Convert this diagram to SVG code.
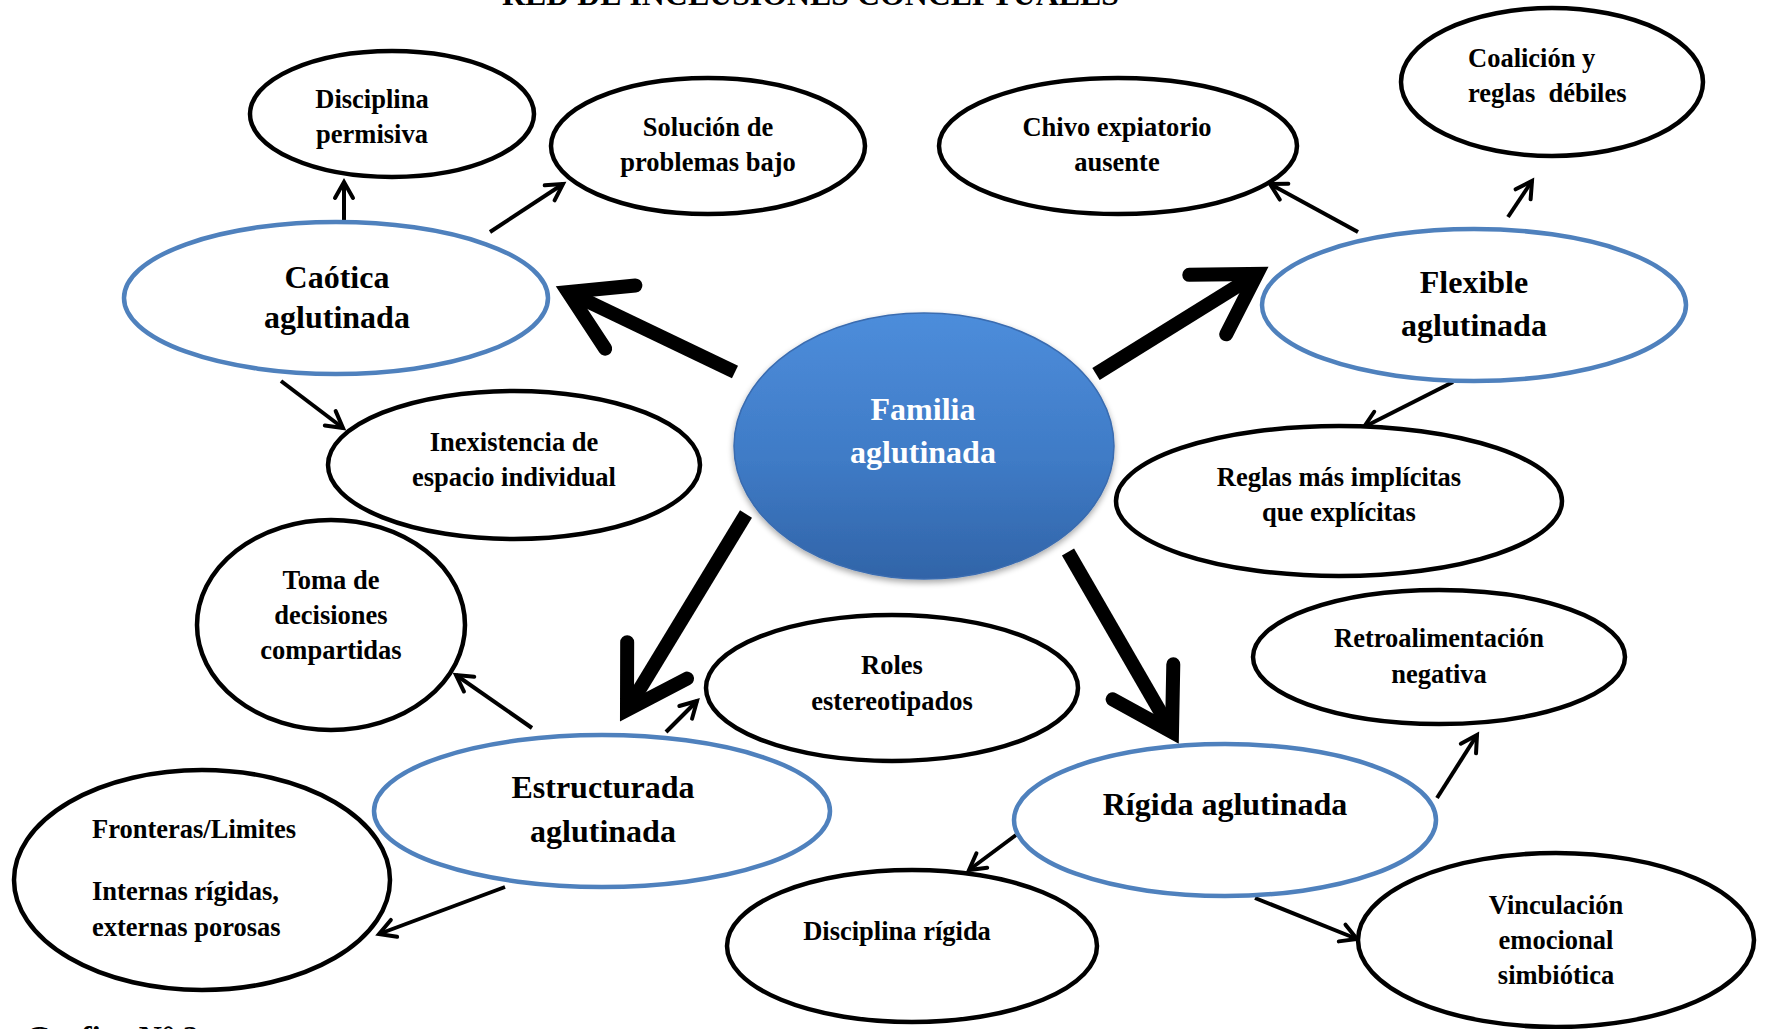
<svg xmlns="http://www.w3.org/2000/svg" width="1767" height="1029" viewBox="0 0 1767 1029">
  <style>
    .blk { fill: #ffffff; stroke: #000000; stroke-width: 4.5; }
    .blue { fill: #ffffff; stroke: #4f81bd; stroke-width: 4.5; }
    .t { font-family: "Liberation Serif", "Times New Roman", serif; font-weight: bold; font-size: 26.5px; fill: #000000; text-anchor: middle; }
    .tl { text-anchor: start; }
    .big { font-size: 32px; }
    .white { fill: #ffffff; }
    .title { font-family: "Liberation Serif", "Times New Roman", serif; font-weight: bold; font-size: 32px; fill: #000000; }
    .thin { fill: none; stroke: #000000; stroke-width: 4; marker-end: url(#head); }
    .thick { fill: none; stroke: #000000; stroke-width: 14; marker-end: url(#bighead); }
  </style>
  <defs>
    <marker id="head" markerUnits="userSpaceOnUse" viewBox="0 0 24 24" markerWidth="24" markerHeight="24" refX="21" refY="12" orient="auto" overflow="visible">
      <path d="M5,3 L21,12 L5,21" fill="none" stroke="#000000" stroke-width="4" stroke-linecap="round" stroke-linejoin="miter"/>
    </marker>
    <marker id="bighead" markerUnits="userSpaceOnUse" viewBox="0 0 80 80" markerWidth="80" markerHeight="80" refX="72" refY="40" orient="auto" overflow="visible">
      <path d="M14,5 L72,40 L14,75" fill="none" stroke="#000000" stroke-width="14" stroke-linecap="round" stroke-linejoin="miter"/>
    </marker>
    <linearGradient id="centerFill" x1="0" y1="0" x2="0" y2="1">
      <stop offset="0" stop-color="#4d8ddb"/>
      <stop offset="0.55" stop-color="#3f7bc6"/>
      <stop offset="1" stop-color="#3164a8"/>
    </linearGradient>
    <filter id="soft" x="-10%" y="-10%" width="120%" height="125%">
      <feGaussianBlur in="SourceAlpha" stdDeviation="3"/>
      <feOffset dx="0" dy="3" result="s"/>
      <feComponentTransfer><feFuncA type="linear" slope="0.35"/></feComponentTransfer>
      <feMerge><feMergeNode/><feMergeNode in="SourceGraphic"/></feMerge>
    </filter>
  </defs>

  <rect width="1767" height="1029" fill="#ffffff"/>

  <!-- heading, cropped at the top edge -->
  <text class="title" x="502" y="5" textLength="617" lengthAdjust="spacingAndGlyphs">RED DE INCLUSIONES CONCEPTUALES</text>
  <!-- caption, cropped at the bottom edge -->
  <text class="title" x="26" y="1048">Grafico N° 2</text>

  <!-- connectors -->
  <g id="connectors">
    <path class="thick" d="M735,372 L568,292"/>
    <path class="thick" d="M1096,374 L1257,274"/>
    <path class="thick" d="M746,514 L627,710"/>
    <path class="thick" d="M1068,552 L1172,732"/>

    <path class="thin" d="M344,224 L344,182"/>
    <path class="thin" d="M490,232 L563,184"/>
    <path class="thin" d="M281,381 L343,428"/>
    <path class="thin" d="M1358,232 L1270,184"/>
    <path class="thin" d="M1508,217 L1532,181"/>
    <path class="thin" d="M1453,382 L1364,427"/>
    <path class="thin" d="M532,728 L456,675"/>
    <path class="thin" d="M666,732 L697,701"/>
    <path class="thin" d="M505,887 L379,934"/>
    <path class="thin" d="M1437,798 L1477,735"/>
    <path class="thin" d="M1016,835 L969,870"/>
    <path class="thin" d="M1255,898 L1357,939"/>
  </g>

  <g id="familia-aglutinada">
    <ellipse cx="924" cy="446" rx="190" ry="133" fill="url(#centerFill)" stroke="#3a6cb0" stroke-width="1.5" filter="url(#soft)"/>
    <text class="t big white" x="923" y="420">Familia</text>
    <text class="t big white" x="923" y="463">aglutinada</text>
  </g>

  <g id="caotica-aglutinada">
    <ellipse class="blue" cx="336" cy="298" rx="212" ry="76"/>
    <text class="t big" x="337" y="288">Caótica</text>
    <text class="t big" x="337" y="328">aglutinada</text>
  </g>

  <g id="flexible-aglutinada">
    <ellipse class="blue" cx="1474" cy="305" rx="212" ry="76"/>
    <text class="t big" x="1474" y="293">Flexible</text>
    <text class="t big" x="1474" y="336">aglutinada</text>
  </g>

  <g id="estructurada-aglutinada">
    <ellipse class="blue" cx="602" cy="811" rx="228" ry="76"/>
    <text class="t big" x="603" y="798">Estructurada</text>
    <text class="t big" x="603" y="842">aglutinada</text>
  </g>

  <g id="rigida-aglutinada">
    <ellipse class="blue" cx="1225" cy="820" rx="211" ry="76"/>
    <text class="t big" x="1225" y="815">Rígida aglutinada</text>
  </g>

  <g id="disciplina-permisiva">
    <ellipse class="blk" cx="392" cy="114" rx="142" ry="63"/>
    <text class="t" x="372" y="108">Disciplina</text>
    <text class="t" x="372" y="143">permisiva</text>
  </g>

  <g id="solucion-problemas">
    <ellipse class="blk" cx="708" cy="146" rx="157" ry="68"/>
    <text class="t" x="708" y="136">Solución de</text>
    <text class="t" x="708" y="171">problemas bajo</text>
  </g>

  <g id="inexistencia-espacio">
    <ellipse class="blk" cx="514" cy="465" rx="186" ry="74"/>
    <text class="t" x="514" y="451">Inexistencia de</text>
    <text class="t" x="514" y="486">espacio individual</text>
  </g>

  <g id="chivo-expiatorio">
    <ellipse class="blk" cx="1118" cy="146" rx="179" ry="68"/>
    <text class="t" x="1117" y="136">Chivo expiatorio</text>
    <text class="t" x="1117" y="171">ausente</text>
  </g>

  <g id="coalicion-reglas">
    <ellipse class="blk" cx="1552" cy="82" rx="151" ry="74"/>
    <text class="t tl" x="1468" y="67">Coalición y</text>
    <text class="t tl" x="1468" y="102" xml:space="preserve">reglas  débiles</text>
  </g>

  <g id="reglas-implicitas">
    <ellipse class="blk" cx="1339" cy="501" rx="223" ry="75"/>
    <text class="t" x="1339" y="486">Reglas más implícitas</text>
    <text class="t" x="1339" y="521">que explícitas</text>
  </g>

  <g id="toma-decisiones">
    <ellipse class="blk" cx="331" cy="625" rx="134" ry="105"/>
    <text class="t" x="331" y="589">Toma de</text>
    <text class="t" x="331" y="624">decisiones</text>
    <text class="t" x="331" y="659">compartidas</text>
  </g>

  <g id="roles-estereotipados">
    <ellipse class="blk" cx="892" cy="688" rx="186" ry="73"/>
    <text class="t" x="892" y="674">Roles</text>
    <text class="t" x="892" y="710">estereotipados</text>
  </g>

  <g id="retroalimentacion">
    <ellipse class="blk" cx="1439" cy="657" rx="186" ry="67"/>
    <text class="t" x="1439" y="647">Retroalimentación</text>
    <text class="t" x="1439" y="683">negativa</text>
  </g>

  <g id="fronteras-limites">
    <ellipse class="blk" cx="202" cy="880" rx="188" ry="110"/>
    <text class="t tl" x="92" y="838">Fronteras/Limites</text>
    <text class="t tl" x="92" y="900">Internas rígidas,</text>
    <text class="t tl" x="92" y="936">externas porosas</text>
  </g>

  <g id="disciplina-rigida">
    <ellipse class="blk" cx="912" cy="946" rx="185" ry="76"/>
    <text class="t" x="897" y="940">Disciplina rígida</text>
  </g>

  <g id="vinculacion-simbiotica">
    <ellipse class="blk" cx="1556" cy="940" rx="198" ry="87"/>
    <text class="t" x="1556" y="914">Vinculación</text>
    <text class="t" x="1556" y="949">emocional</text>
    <text class="t" x="1556" y="984">simbiótica</text>
  </g>
</svg>
